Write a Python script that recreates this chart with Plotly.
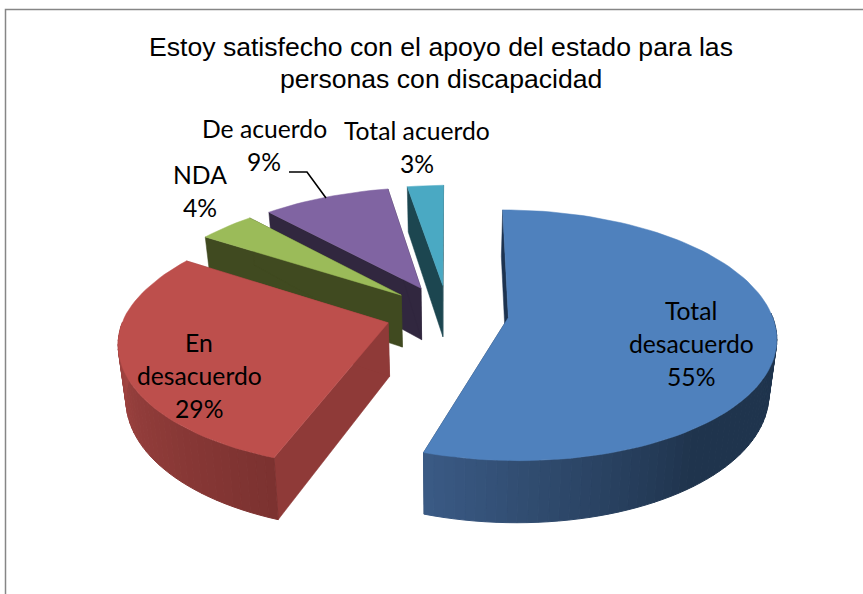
import math
import plotly.graph_objects as go

# --- data ---
categories = ["Total desacuerdo", "En desacuerdo", "NDA", "De acuerdo", "Total acuerdo"]
values = [55, 29, 4, 9, 3]
label_lines = [["Total", "desacuerdo"], ["En", "desacuerdo"], ["NDA"], ["De acuerdo"], ["Total acuerdo"]]
title_lines = ["Estoy satisfecho con el apoyo del estado para las", "personas con discapacidad"]

# --- style ---
top_colors = ["#4f81bd", "#bd4f4c", "#9bbb59", "#8064a2", "#4aa9c3"]
face_colors = ["#1d3350", "#8f3a38", "#404a20", "#31273f", "#1c4650"]
wall_start = ["#1f344d", "#7c3230", "#404a20", "#31273f", "#1c4650"]
wall_end = ["#3b5b86", "#b54e4b", "#404a20", "#31273f", "#1c4650"]
wall_ramp_from = [0.72, 0, 0, 0, 0]
skew = [2, 6, 6, 6, 6]
trim_start = [0, 2, 0, 0, 0]  # degrees, visual gap from the exploded perspective
trim_end = [0, 0, 0, 0, 1.5]
label_pos = [(691, 310), (199, 342), (200, 174), (264, 128), (417, 130)]
LINE_PITCH = 33
CX, CY, RX, RY, P, DEPTH, SHRINK, EXPLODE = 447, 313, 263, 121.6, 0.141, 53, 0.976, 0.235


def project(x, y, sk, bottom=False):
    s = 1 / (1 + P * y)
    px = CX + RX * x * s + sk * max(0, y)
    py = CY - RY * y * s
    if bottom:
        px = CX + (px - CX) * SHRINK
        py += DEPTH * s
    return px, py


def hex_mix(c1, c2, t):
    a = [int(c1[i:i + 2], 16) for i in (1, 3, 5)]
    b = [int(c2[i:i + 2], 16) for i in (1, 3, 5)]
    return "rgb(%d,%d,%d)" % tuple(round(a[i] + (b[i] - a[i]) * t) for i in range(3))


def poly(fig, pts, color, width=0.5):
    fig.add_trace(go.Scatter(
        x=[p[0] for p in pts] + [pts[0][0]], y=[p[1] for p in pts] + [pts[0][1]],
        mode="lines", fill="toself", fillcolor=color,
        line=dict(color=color, width=width), hoverinfo="skip", showlegend=False))


fig = go.Figure()
total = sum(values)
spans = []
acc = 0.0
for v in values:
    spans.append((acc, acc + v / total * 2 * math.pi))
    acc = spans[-1][1]

for i in [4, 3, 2, 1, 0]:
    a0, a1 = spans[i]
    mid = (a0 + a1) / 2
    ox, oy = EXPLODE * math.sin(mid), EXPLODE * math.cos(mid)
    a0 += math.radians(trim_start[i])
    a1 -= math.radians(trim_end[i])
    n = max(4, int((a1 - a0) / math.radians(2.0)))
    angs = [a0 + (a1 - a0) * k / n for k in range(n + 1)]
    world = [(ox + math.sin(a), oy + math.cos(a)) for a in angs]
    top = [project(w[0], w[1], skew[i]) for w in world]
    bot = [project(w[0], w[1], skew[i], bottom=True) for w in world]
    apex_t, apex_b = project(ox, oy, skew[i]), project(ox, oy, skew[i], bottom=True)
    # cut faces first
    poly(fig, [apex_t, top[0], bot[0], apex_b], face_colors[i])
    poly(fig, [apex_t, top[-1], bot[-1], apex_b], face_colors[i])
    # rim wall (front-facing part only), shaded along the arc
    for k in range(n):
        if math.cos((angs[k] + angs[k + 1]) / 2) > 0.02:
            continue
        t = (k / n - wall_ramp_from[i]) / (1 - wall_ramp_from[i])
        poly(fig, [top[k], top[k + 1], bot[k + 1], bot[k]], hex_mix(wall_start[i], wall_end[i], max(0, t)), 1)
    # top surface
    poly(fig, [apex_t] + top, top_colors[i])

# leader line for "De acuerdo"
leader_x = [289, 307, 326]
leader_y = [172, 172, 198]
fig.add_trace(go.Scatter(x=leader_x, y=leader_y, mode="lines", line=dict(color="black", width=1.6),
                         hoverinfo="skip", showlegend=False))

ann = []
for lines, v, (lx, ly) in zip(label_lines, values, label_pos):
    for j, t in enumerate(lines + [f"{v}%"]):
        ann.append(dict(x=lx, y=ly + j * LINE_PITCH, text=t, showarrow=False, xanchor="center", yanchor="middle",
                        font=dict(family="Lato", size=24.7, color="black")))
for j, t in enumerate(title_lines):
    ann.append(dict(x=441, y=47 + j * 32, text=t, showarrow=False, xanchor="center", yanchor="middle",
                    font=dict(family="Liberation Sans", size=26.6, color="black")))

fig.update_layout(
    width=863, height=594, margin=dict(l=0, r=0, t=0, b=0),
    paper_bgcolor="white", plot_bgcolor="white", showlegend=False, annotations=ann,
    xaxis=dict(range=[0, 863], visible=False, fixedrange=True),
    yaxis=dict(range=[594, 0], visible=False, fixedrange=True),
    shapes=[dict(type="rect", x0=5.5, y0=9.5, x1=880, y1=620, line=dict(color="#868686", width=1.5), layer="below")],
)
fig.write_html("out.html", config={"displayModeBar": False},
               post_script="document.body.style.margin='0';document.body.style.overflow='hidden';")
